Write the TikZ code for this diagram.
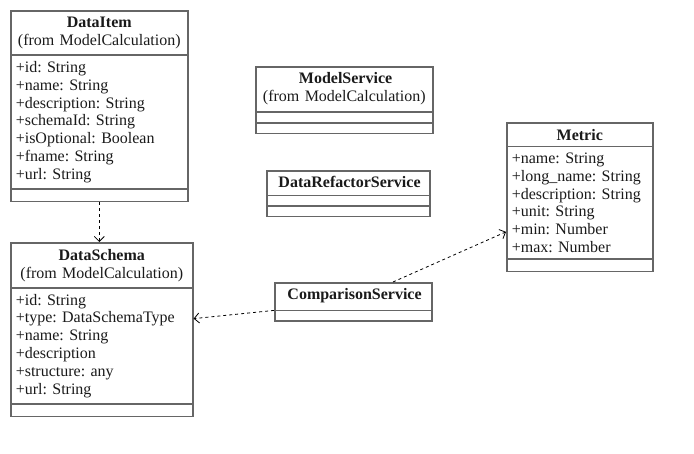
\documentclass[tikz,border=0pt]{standalone}
\usepackage{fontspec}
\setmainfont{Liberation Serif}
\usetikzlibrary{shapes.multipart,arrows.meta,calc}
\definecolor{umlline}{HTML}{666666}
\definecolor{umltext}{HTML}{1A1A1A}
\newcommand{\headpad}{\kern2.5pt}
\tikzset{
  umlclass/.style={draw=umlline, line width=1.6pt, text=umltext,
    rectangle split, rectangle split parts=3, rectangle split draw splits,
    rectangle split empty part height=0pt, rectangle split empty part depth=0pt,
    anchor=north west, inner xsep=5pt, inner ysep=5.5pt, text width=#1,
    font=\fontsize{16}{17.8}\selectfont\frenchspacing},
  umlservice/.style={umlclass=#1, inner ysep=4.5pt},
  dep/.style={draw=black, line width=0.8pt, dash pattern=on 3pt off 3pt,
    -{Straight Barb[length=5pt,width=10pt]}}
}
\begin{document}
\begin{tikzpicture}[x=1pt,y=-1pt]
  \useasboundingbox (0,0) rectangle (694,453);
  \node[umlclass=167pt] (item) at (10,10)
    {\centering\textbf{DataItem}\\(from ModelCalculation)\par
     \nodepart{two}\raggedright+id: String\\+name: String\\+description: String\\+schemaId: String\\+isOptional: Boolean\\+fname: String\\+url: String
     \nodepart{three}};
  \node[umlclass=172pt] (schema) at (10,242)
    {\centering\textbf{DataSchema}\\(from ModelCalculation)\par
     \nodepart{two}\raggedright+id: String\\+type: DataSchemaType\\+name: String\\+description\\+structure: any\\+url: String
     \nodepart{three}};
  \node[umlservice=167pt] (model) at (255,66)
    {\headpad\centering\textbf{ModelService}\\(from ModelCalculation)\par\headpad
     \nodepart{two}
     \nodepart{three}};
  \node[umlservice=153pt] (refactor) at (266,170)
    {\headpad\centering\textbf{DataRefactorService}\par\headpad
     \nodepart{two}
     \nodepart{three}};
  \node[umlservice=147pt, rectangle split parts=2] (compare) at (274,282)
    {\headpad\centering\textbf{ComparisonService}\par\headpad
     \nodepart{two}};
  \node[umlclass=136pt] (metric) at (506,122)
    {\centering\textbf{Metric}\par
     \nodepart{two}\raggedright+name: String\\+long\_name: String\\+description: String\\+unit: String\\+min: Number\\+max: Number
     \nodepart{three}};
  % dependencies
  \draw[dep] (item.south) -- (item.south |- schema.north);
  \draw[dep] ($(compare.north west)!0.75!(compare.north east)$) -- ($(metric.west)!0.46!(metric.south west)$);
  \draw[dep] (compare.text split west) -- ([yshift=11pt]schema.east);
\end{tikzpicture}
\end{document}
